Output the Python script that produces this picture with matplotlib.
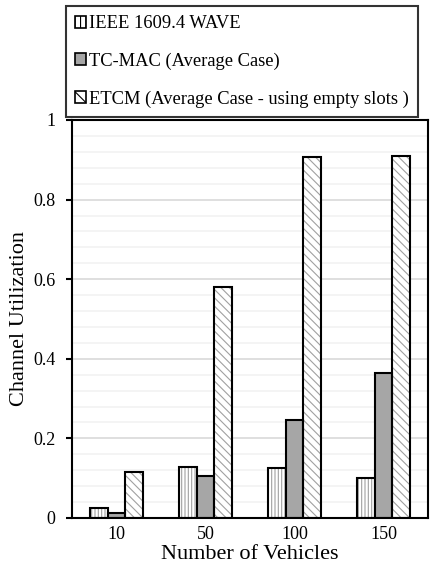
import numpy as np
import matplotlib
matplotlib.use('Agg')
from matplotlib import pyplot as plt
from matplotlib.patches import Patch

vehicles = ['10', '50', '100', '150']
wave = [0.025, 0.127, 0.125, 0.100]
tcmac = [0.012, 0.105, 0.247, 0.365]
etcm = [0.115, 0.580, 0.907, 0.910]
labels = ['IEEE 1609.4 WAVE', 'TC-MAC (Average Case)', 'ETCM (Average Case - using empty slots )']
yticks = [0, 0.2, 0.4, 0.6, 0.8, 1]
ytick_labels = ['0', '0.2', '0.4', '0.6', '0.8', '1']

plt.rcParams['font.family'] = ['Liberation Serif', 'DejaVu Serif']
plt.rcParams['hatch.linewidth'] = 0.8

fig = plt.figure(figsize=(4.43, 5.66), dpi=100)
ax = fig.add_axes([72/443, 48/566, 356/443, 398/566])

x = np.arange(len(vehicles))
w = 0.2
hatch_col = '#a0a0a0'
# hatch drawn in gray, then black outline on top
ax.bar(x - w, wave, w, color='white', edgecolor=hatch_col, linewidth=0, hatch='|||||', zorder=3)
ax.bar(x - w, wave, w, color='none', edgecolor='black', linewidth=1.5, zorder=4)
ax.bar(x, tcmac, w, color='#a6a6a6', edgecolor='black', linewidth=1.5, zorder=4)
ax.bar(x + w, etcm, w, color='white', edgecolor=hatch_col, linewidth=0, hatch='\\\\\\\\', zorder=3)
ax.bar(x + w, etcm, w, color='none', edgecolor='black', linewidth=1.5, zorder=4)

ax.set_xlim(-0.5, 3.5)
ax.set_ylim(0, 1)
ax.set_xticks(x, vehicles)
ax.set_yticks(yticks, ytick_labels)
ax.set_yticks(np.arange(0, 1.001, 0.04), minor=True)
ax.grid(axis='y', which='major', color='#d9d9d9', linewidth=1.2, zorder=0)
ax.grid(axis='y', which='minor', color='#f2f2f2', linewidth=1.2, zorder=0)
ax.tick_params(axis='x', length=0, labelsize=13, pad=6)
ax.tick_params(axis='y', which='major', length=4, width=1.5, labelsize=13, pad=8)
ax.tick_params(axis='y', which='minor', length=0)
for s in ax.spines.values():
    s.set_linewidth(1.5)
    s.set_zorder(5)

ax.set_xlabel('Number of Vehicles', fontsize=16, labelpad=1)
ax.set_ylabel('Channel Utilization', fontsize=16, labelpad=3)

h1 = Patch(facecolor='white', edgecolor='black', hatch='|||', linewidth=1.2)
h2 = Patch(facecolor='#a6a6a6', edgecolor='black', linewidth=1.2)
h3 = Patch(facecolor='white', edgecolor='black', hatch='\\\\', linewidth=1.2)
leg = fig.legend(handles=[h1, h2, h3], labels=labels, loc='upper left',
                 bbox_to_anchor=(66/443, 1 - 6/566),
                 fontsize=13.3, frameon=True, fancybox=False, edgecolor='black',
                 handlelength=0.6, handleheight=0.6, handletextpad=0.15,
                 labelspacing=1.1, borderpad=0.5, borderaxespad=0)
leg.get_frame().set_linewidth(1.5)

fig.savefig('out.png', dpi=100)
plt.close(fig)
